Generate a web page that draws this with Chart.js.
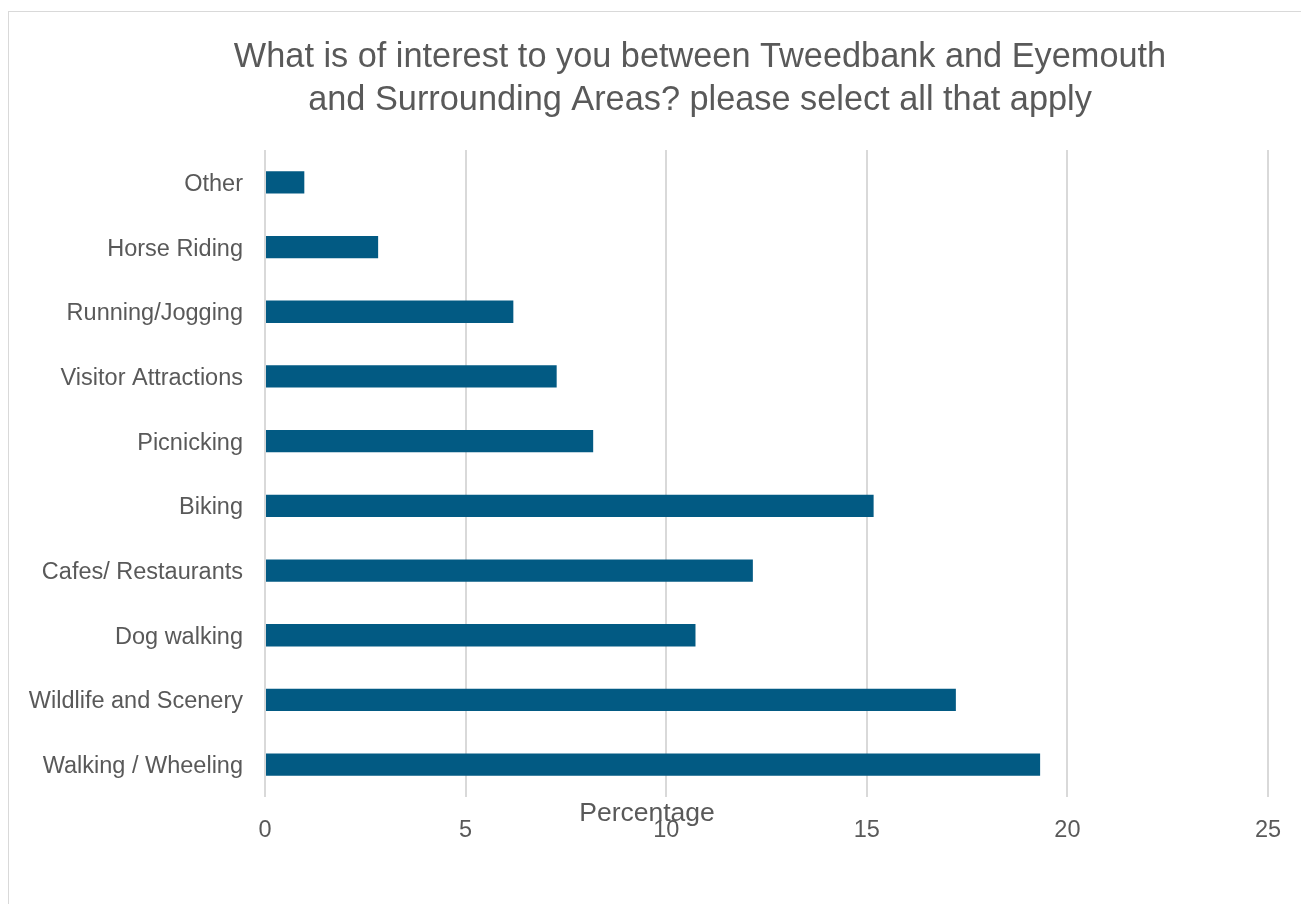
<!DOCTYPE html>
<html>
<head>
<meta charset="utf-8">
<script src="https://cdn.jsdelivr.net/npm/chart.js@4.4.1/dist/chart.umd.min.js"></script>
<style>
  html, body { margin: 0; padding: 0; background: #fff; }
  #frame {
    position: absolute; left: 8px; top: 11px; width: 1300px; height: 900px;
    border: 1px solid #d9d9d9; box-sizing: border-box;
  }
  #wrap { position: absolute; left: 0; top: 0; width: 1301px; height: 904px; }
</style>
</head>
<body>
<div id="frame"></div>
<div id="wrap"><canvas id="chart"></canvas></div>
<script>
// ---- data (top to bottom as shown) ----
const CATEGORIES = [
  'Other',
  'Horse Riding',
  'Running/Jogging',
  'Visitor Attractions',
  'Picnicking',
  'Biking',
  'Cafes/ Restaurants',
  'Dog walking',
  'Wildlife and Scenery',
  'Walking / Wheeling',
];
const PERCENTAGES = [0.98, 2.82, 6.19, 7.27, 8.18, 15.17, 12.16, 10.73, 17.22, 19.32];
const X_TICKS = [0, 5, 10, 15, 20, 25];

const TITLE_LINES = [
  'What is of interest to you between Tweedbank and Eyemouth',
  'and Surrounding Areas? please select all that apply',
];
const X_TITLE = 'Percentage';

const BAR   = '#025a83';
const TEXT  = '#595959';
const GRID  = '#d9d9d9';
const FONT  = "'Liberation Sans', Arial, sans-serif";

Chart.defaults.font.family = FONT;
Chart.defaults.color = TEXT;

// the original centres its title and axis title on the whole (wider) frame,
// not on the plot, so both are drawn here at fixed centre lines
const freeText = {
  id: 'freeText',
  afterDraw(chart, args, opts) {
    const ctx = chart.ctx;
    ctx.save();
    ctx.fillStyle = TEXT;
    ctx.textAlign = 'center';
    ctx.textBaseline = 'middle';
    opts.items.forEach(it => {
      ctx.font = `${it.size}px ${FONT}`;
      it.lines.forEach((t, i) => ctx.fillText(t, it.x, it.y + i * (it.lineHeight || 0)));
    });
    ctx.restore();
  },
};

new Chart(document.getElementById('chart'), {
  type: 'bar',
  data: {
    labels: CATEGORIES,
    datasets: [{
      label: X_TITLE,
      data: PERCENTAGES,
      backgroundColor: BAR,
      borderWidth: 0,
      categoryPercentage: 1,
      barPercentage: 0.345,
    }],
  },
  plugins: [freeText],
  options: {
    indexAxis: 'y',
    responsive: true,
    maintainAspectRatio: false,
    animation: false,
    layout: { padding: { left: 0, right: 33, top: 150, bottom: 0 } },
    plugins: {
      legend: { display: false },
      tooltip: { enabled: false },
      title: { display: false },
      freeText: {
        items: [
          { lines: TITLE_LINES, x: 700, y: 58, lineHeight: 42.5, size: 34.3 },
          { lines: [X_TITLE], x: 647, y: 814, size: 26.5 },
        ],
      },
    },
    scales: {
      x: {
        min: 0,
        max: 25,
        afterBuildTicks: s => { s.ticks = X_TICKS.map(v => ({ value: v })); },
        grid: { color: GRID, lineWidth: 2, drawTicks: false },
        border: { display: false },
        ticks: { padding: 19, font: { size: 23.5 }, color: TEXT },
        afterFit: s => { s.height = 107; },
      },
      y: {
        grid: { display: false, drawTicks: false },
        border: { display: false },
        ticks: { padding: 22, labelOffset: 2, font: { size: 23.5 }, color: TEXT },
        afterFit: s => { s.width = 265; },
      },
    },
  },
});
</script>
</body>
</html>
